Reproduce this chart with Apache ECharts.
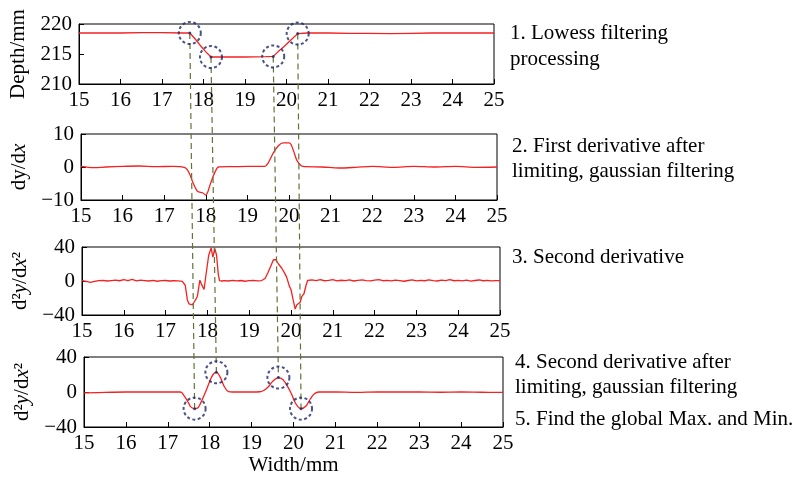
<!DOCTYPE html>
<html><head><meta charset="utf-8">
<script src="https://cdn.jsdelivr.net/npm/echarts@6/dist/echarts.min.js"></script>
<style>html,body{margin:0;padding:0;background:#fff}#c{width:798px;height:477px}</style>
</head><body><div id="c"></div>
<script>
// ---- Data ----
const xTicks = [15, 25, 1];
const x1 = [15, 15.5, 16, 16.5, 17, 17.5, 17.67, 17.8, 17.95, 18.05, 18.18, 18.5, 19, 19.5, 19.68, 19.8, 19.95, 20.1, 20.27, 20.5, 21, 21.5, 22, 22.5, 23, 23.5, 24, 24.5, 25];
const y1 = [218.5, 218.5, 218.5, 218.55, 218.55, 218.5, 218.5, 217.5, 216.2, 215.4, 214.5, 214.5, 214.5, 214.55, 214.6, 215.4, 216.3, 217.3, 218.4, 218.5, 218.5, 218.45, 218.45, 218.4, 218.45, 218.5, 218.5, 218.5, 218.5];

const x2 = [15, 15.3, 15.6, 16, 16.4, 16.8, 17.2, 17.5, 17.6, 17.7, 17.8, 17.85, 17.92, 18.0, 18.05, 18.1, 18.17, 18.25, 18.3, 18.6, 19.0, 19.42, 19.5, 19.62, 19.75, 19.86, 20.0, 20.05, 20.12, 20.19, 20.3, 20.4, 20.8, 21.2, 21.6, 22, 22.5, 23, 23.5, 24, 24.5, 25];
const y2 = [0.2, -0.2, 0, 0.2, 0.3, 0.1, 0.2, -0.2, -1.8, -5, -7.4, -7.6, -7.8, -8.5, -7.5, -5.5, -3, -0.8, 0, 0.1, 0.2, 0.2, 1.2, 4.2, 6.5, 7.3, 7.3, 6.8, 4.5, 2, 0.3, 0.1, 0, -0.3, -0.1, 0.2, -0.1, 0.2, 0, 0.2, -0.1, 0];

const x3 = [15.0, 15.1, 15.2, 15.3, 15.4, 15.5, 15.6, 15.7, 15.8, 15.9, 16.0, 16.1, 16.2, 16.3, 16.4, 16.5, 16.6, 16.7, 16.8, 16.9, 17.0, 17.1, 17.2, 17.3, 17.4,
  17.47, 17.52, 17.56, 17.6, 17.64, 17.68, 17.72, 17.76, 17.82, 17.86, 17.92, 17.96, 18.03, 18.09, 18.13, 18.18, 18.22, 18.26, 18.29, 18.35,
  18.4, 18.5, 18.6, 18.7, 18.8, 18.9, 19.0, 19.1, 19.2, 19.3,
  19.38, 19.45, 19.52, 19.58, 19.64, 19.7, 19.78, 19.85, 19.9, 19.93, 19.96, 20.0, 20.05, 20.1, 20.14, 20.18, 20.22, 20.26, 20.31, 20.36,
  20.4, 20.5, 20.6, 20.7, 20.8, 20.9, 21.0, 21.1, 21.2, 21.3, 21.4, 21.5, 21.6, 21.7, 21.8, 21.9, 22.0, 22.1, 22.2, 22.3, 22.4, 22.5, 22.6, 22.7, 22.8, 22.9, 23.0, 23.1, 23.2, 23.3, 23.4, 23.5, 23.6, 23.7, 23.8, 23.9, 24.0, 24.1, 24.2, 24.3, 24.4, 24.5, 24.6, 24.7, 24.8, 24.9, 25.0];
const y3 = [0.5, -0.5, -1.5, -0.5, 0.5, 0.8, 0, 0.5, 1, 0.3, 1.5, 0.5, 1.8, 0.2, 1, 0.5, 0, 0.8, -0.3, 0.4, 0.6, 0, 0.3, 0.2, -0.5,
  -5, -22, -27, -26, -28, -25, -22, -18, 1, -4, -10, 5, 30, 39, 28, 38, 30, 8, 0.5, 0,
  0.5, 0, 0.8, 0.2, 0.6, -0.3, 0.4, 0.8, 0.2, 0.5,
  3, 10, 18, 25, 25, 20, 15, 9, 4, 3, -6, -10, -22, -33, -28, -30, -25, -18, -15, -5,
  0.8, 1.2, 0.5, 1.5, 0.3, 0.8, 1.6, 0.2, 0.9, 0.4, 1.2, 0, 0.8, 1.4, 0.5, 0.2, 1, 1.6, 0.3, 0.7, 0.1, 1.1, 0.5, -0.3, 0.6, 1.4, 0.2, 0.8, 0.3, 1.2, 0.5, 0, 1, 0.4, 1.5, 0.3, 0.7, 0.2, 1, -0.2, 0.6, 1.2, 0.3, 0.8, 0.1, 0.5, 0.4];

const x4 = [15, 15.5, 16, 16.5, 17, 17.2, 17.3, 17.4, 17.5, 17.55, 17.64, 17.72, 17.8, 17.9, 18.0, 18.08, 18.16, 18.25, 18.35, 18.45, 18.55, 19, 19.2, 19.3, 19.4, 19.5, 19.64, 19.75, 19.85, 19.95, 20.05, 20.18, 20.3, 20.4, 20.5, 20.6, 21, 21.5, 22, 22.5, 23, 23.5, 24, 24.5, 25];
const y4 = [-1, -0.5, 0, 0, 0, 0, 0, -5, -13, -17, -19, -18, -11, 0, 12, 20, 22.5, 17, 6, 0.5, 0, 0, 0.3, 2, 6, 12, 16.5, 14, 7, -2, -13, -19, -16, -8, -2, 0, 0, -0.5, 0, 0, 0, -0.3, 0, -0.3, -0.5];

// key points (circled) in panel 1 and panel 4
const p1x = [17.67, 18.18, 19.68, 20.27];
const p1y = [218.5, 214.5, 214.6, 218.4];
const p4x = [17.64, 18.16, 19.64, 20.18];
const p4y = [-19, 22.5, 16.5, -19];

const yRanges = [[210, 220, 5], [-10, 10, 10], [-40, 40, 40], [-40, 40, 40]];
const yNames = ['Depth/mm', '{n|dy/d}{i|x}', '{n|d²}{i|y}{n|/d}{i|x}{n|²}', '{n|d²}{i|y}{n|/d}{i|x}{n|²}'];
const xName = 'Width/mm';
const notes = ['1. Lowess filtering', 'processing', '2. First derivative after', 'limiting, gaussian filtering', '3. Second derivative', '4. Second derivative after', 'limiting, gaussian filtering', '5. Find the global Max. and Min.'];

// ---- Layout ----
const FONT = 'Liberation Serif';
const FS = 21;
const grids = [
  {left: 79, top: 24, width: 415, height: 60},
  {left: 81, top: 134, width: 416, height: 66},
  {left: 82, top: 247, width: 418, height: 68},
  {left: 84, top: 357, width: 419, height: 73}
];
const nameGaps = [50, 50, 47, 46];
const notePos = [[510, 33], [510, 59], [512, 146], [512, 171], [512, 257], [515, 362], [515, 387], [515, 419]];
const RED = '#f52020';
const minus = v => String(v).replace('-', '\u2212');

const chart = echarts.init(document.getElementById('c'), null, {renderer: 'canvas'});

const xAxes = grids.map((g, i) => ({
  type: 'value', gridIndex: i, min: xTicks[0], max: xTicks[1], interval: xTicks[2],
  axisLine: {show: true, onZero: false, lineStyle: {color: '#000', width: 1}},
  axisTick: {show: true, inside: true, length: 5, lineStyle: {color: '#000'}},
  axisLabel: {color: '#000', fontFamily: FONT, fontSize: FS, margin: 6},
  splitLine: {show: false},
  name: i === 3 ? xName : '', nameLocation: 'middle', nameGap: 28,
  nameTextStyle: {color: '#000', fontFamily: FONT, fontSize: FS}
}));
const yAxes = grids.map((g, i) => ({
  type: 'value', gridIndex: i, min: yRanges[i][0], max: yRanges[i][1], interval: yRanges[i][2],
  axisLine: {show: true, onZero: false, lineStyle: {color: '#000', width: 1}},
  axisTick: {show: true, inside: true, length: 5, lineStyle: {color: '#000'}},
  axisLabel: {color: '#000', fontFamily: FONT, fontSize: FS, margin: 7, formatter: minus},
  splitLine: {show: false},
  name: yNames[i], nameLocation: 'middle', nameRotate: 90, nameGap: nameGaps[i],
  nameTextStyle: {color: '#000', fontFamily: FONT, fontSize: FS,
    rich: {n: {fontFamily: FONT, fontSize: FS, color: '#000'}, i: {fontFamily: FONT, fontSize: FS, fontStyle: 'italic', color: '#000'}}}
}));

const lineData = [[x1, y1], [x2, y2], [x3, y3], [x4, y4]];
const series = lineData.map((d, i) => ({
  type: 'line', xAxisIndex: i, yAxisIndex: i, showSymbol: false, smooth: i === 3 ? 0.4 : (i === 1 ? 0.3 : false),
  lineStyle: {color: RED, width: 1.3}, data: d[0].map((x, k) => [x, d[1][k]]), z: 3
}));
const circ = (gi, xs, ys) => ({
  type: 'scatter', xAxisIndex: gi, yAxisIndex: gi, symbol: 'circle', symbolSize: 22, z: 5,
  itemStyle: {color: 'rgba(0,0,0,0)', borderColor: '#1e2766', borderWidth: 2, borderType: [3, 2.5]},
  data: xs.map((x, k) => [x, ys[k]])
});
const dot = (gi, xs, ys) => ({
  type: 'scatter', xAxisIndex: gi, yAxisIndex: gi, symbol: 'circle', symbolSize: 3, z: 6,
  itemStyle: {color: '#1e2766'}, data: xs.map((x, k) => [x, ys[k]])
});
series.push(circ(0, p1x, p1y), dot(0, p1x, p1y), circ(3, p4x, p4y), dot(3, p4x, p4y));

chart.setOption({
  animation: false,
  grid: grids.map(g => Object.assign({show: true, borderColor: '#000', borderWidth: 1, backgroundColor: 'transparent'}, g)),
  xAxis: xAxes, yAxis: yAxes, series: series
});

const graphics = [];
p1x.forEach((x, k) => {
  const a = chart.convertToPixel({gridIndex: 0}, [x, p1y[k]]);
  const b = chart.convertToPixel({gridIndex: 3}, [p4x[k], p4y[k]]);
  graphics.push({type: 'line', z: 4, shape: {x1: a[0], y1: a[1], x2: b[0], y2: b[1]},
    style: {stroke: '#5f7536', lineWidth: 1.2, lineDash: [6, 4]}});
});
notes.forEach((t, k) => {
  graphics.push({type: 'text', x: notePos[k][0], y: notePos[k][1],
    style: {text: t, fill: '#000', font: FS + 'px "' + FONT + '"', verticalAlign: 'middle', align: 'left'}});
});
chart.setOption({graphic: graphics});
</script></body></html>
